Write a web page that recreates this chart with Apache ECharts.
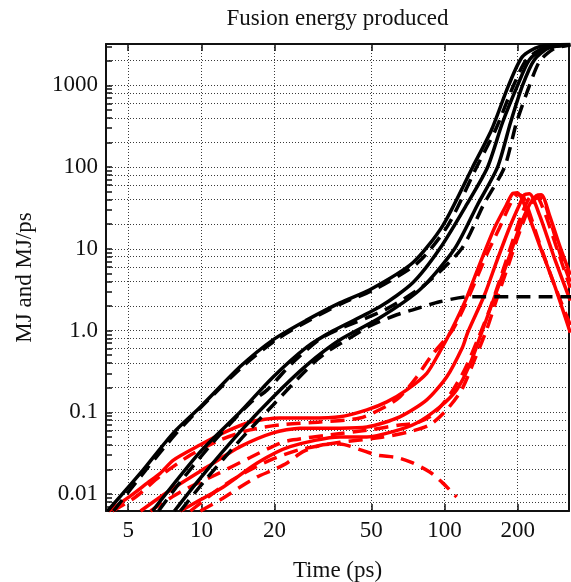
<!DOCTYPE html>
<html>
<head>
<meta charset="utf-8">
<title>Fusion energy produced</title>
<script src="https://cdn.jsdelivr.net/npm/echarts@6/dist/echarts.min.js"></script>
<style>
  html, body { margin: 0; padding: 0; background: #fff; }
  #chart { width: 571px; height: 582px; }
</style>
</head>
<body>
<div id="chart"></div>
<script>
// axis labels
const xTickVals = [5, 10, 20, 50, 100, 200];
const yLabelVals = [0.01, 0.1, 1, 10, 100, 1000];

// energy produced (MJ), black curves
const tA = [4.11, 5.62, 7.67, 9.9, 14.4, 19.7, 27.2, 37.1, 49.3, 74, 98.2, 130.4, 156.1, 183.2, 209.1, 245.5, 329];
const eA = [0.0062, 0.0181, 0.056, 0.116, 0.36, 0.77, 1.35, 2.18, 3.15, 6.74, 19.1, 99.5, 286, 989, 2240, 2969, 3150];
const tAd = [4.35, 5.89, 7.82, 10.09, 14.72, 20.29, 27.98, 38.2, 51.19, 77.6, 103, 135.4, 162.1, 192, 217.2, 257.4, 329];
const eAd = [0.0062, 0.0195, 0.054, 0.12, 0.36, 0.77, 1.35, 2.18, 3.15, 6.74, 19.1, 99.5, 286, 989, 2058, 2886, 3140];
const tB = [6.29, 9.9, 14.44, 19.72, 27.19, 34.76, 54.18, 74, 95.5, 123.2, 150.3, 173.1, 199.5, 223.4, 257.4, 329];
const eB = [0.0062, 0.033, 0.101, 0.27, 0.63, 0.99, 1.95, 3.84, 10, 34.6, 99.5, 348, 989, 2058, 2805, 3140];
const tC = [7.74, 9.9, 14.44, 19.72, 27.19, 37.14, 54.18, 79.1, 110, 136.7, 165.2, 186.7, 209.1, 234.2, 269.8, 329];
const eC = [0.0062, 0.0157, 0.058, 0.154, 0.38, 0.77, 1.43, 3.15, 10, 34.6, 99.5, 348, 989, 2058, 2886, 3140];
const tBd = [6.66, 8.19, 11.09, 15.87, 18.64, 23.82, 32.2, 56.8, 82.9, 117.5, 144.7, 176.4, 197.6, 223.4, 245.5, 277.5, 329];
const eBd = [0.0062, 0.0141, 0.042, 0.13, 0.188, 0.41, 0.86, 1.79, 3.63, 10, 34.6, 99.5, 348, 989, 1945, 2727, 3140];
const tCd = [8.19, 10.38, 14.44, 19.72, 26.18, 29.89, 33.79, 39.67, 49.29, 63.62, 74, 95.5, 126.8, 340];
const eCd = [0.0062, 0.0149, 0.046, 0.123, 0.3, 0.44, 0.58, 0.77, 1.14, 1.56, 1.79, 2.25, 2.59, 2.59];

// fusion power (MJ/ps), red curves
const tR1 = [4.15, 5.11, 6.0, 6.79, 7.67, 9.9, 12.3, 15.87, 21.07, 27.98, 37.14, 47.92, 57.88, 69.9, 84.5, 95.5, 106.9, 123.2, 140.7, 160.6, 179.8, 190.2, 199.5, 213.1, 245.5, 282.8, 329];
const pR1 = [0.0062, 0.0095, 0.0137, 0.0181, 0.026, 0.04, 0.056, 0.076, 0.085, 0.085, 0.088, 0.107, 0.134, 0.188, 0.3, 0.548, 1.02, 2.51, 6.93, 18.1, 34.6, 47.1, 48.4, 34.6, 11.2, 3.63, 0.94];
const tR2 = [5.62, 7.46, 10.58, 14.44, 19.72, 25.45, 37.14, 47.92, 65.45, 84.5, 102, 118.7, 124.4, 146.1, 163.6, 184.9, 203.3, 213.1, 223.4, 245.5, 282.8, 329];
const pR2 = [0.0062, 0.0112, 0.0215, 0.038, 0.056, 0.064, 0.064, 0.066, 0.088, 0.142, 0.27, 0.63, 0.94, 2.74, 6.93, 18.1, 34.6, 45.8, 47.1, 26.1, 7.76, 2.32];
const tR3 = [8.19, 9.9, 12.3, 16.96, 23.16, 37.14, 47.92, 61.26, 76.8, 95.5, 112.1, 126.8, 142, 160.6, 181.5, 203.3, 223.4, 238.7, 250.2, 269.8, 296.6, 329];
const pR3 = [0.0062, 0.0085, 0.0122, 0.024, 0.038, 0.05, 0.05, 0.058, 0.074, 0.116, 0.188, 0.38, 0.94, 2.59, 6.93, 18.1, 34.6, 44.6, 45.8, 26.1, 11.2, 4.81];
const tRd1 = [4.31, 5.36, 6.79, 9.01, 11.96, 15.87, 21.07, 30.75, 44.86, 56.8, 65.45, 76.8, 88.6, 108, 126.8, 148.9, 168.3, 188.4, 199.5, 211.1, 245.5, 282.8, 329];
const pRd1 = [0.0062, 0.0092, 0.0167, 0.03, 0.046, 0.061, 0.07, 0.076, 0.085, 0.116, 0.154, 0.27, 0.5, 1.02, 2.74, 8.45, 18.1, 37.6, 45.8, 43.3, 11.8, 3.63, 1.17];
const tRd2 = [6.17, 8.19, 11.4, 15.87, 21.07, 23.82, 33.79, 49.29, 65.45, 76.8, 89.4, 105, 120.9, 136.7, 153.1, 171.5, 188.4, 207.2, 223.4, 236.4, 257.4, 291.1, 329];
const pRd2 = [0.0062, 0.0106, 0.0171, 0.028, 0.042, 0.046, 0.053, 0.061, 0.07, 0.074, 0.093, 0.163, 0.33, 0.77, 1.79, 4.81, 11.2, 26.1, 42.1, 45.8, 28.4, 9.72, 3.33];
const tRd3 = [9.01, 11.62, 14.04, 19.17, 25.45, 37.14, 54.18, 71.9, 86.9, 102, 117.5, 132.9, 148.9, 163.6, 181.5, 199.5, 219.2, 236.4, 250.2, 269.8, 302.3, 329];
const pRd3 = [0.0062, 0.0112, 0.0162, 0.026, 0.035, 0.043, 0.049, 0.058, 0.07, 0.107, 0.188, 0.44, 1.02, 2.38, 5.85, 13.6, 28.4, 40.9, 42.1, 24, 7.76, 3.95];
const tRd4 = [9.9, 11.96, 14.44, 16.96, 19.72, 22.51, 26.18, 31.6, 37.14, 44.86, 52.7, 63.62, 74, 86.9, 98.2, 112.1];
const pRd4 = [0.0062, 0.0085, 0.0122, 0.0162, 0.0197, 0.024, 0.033, 0.04, 0.041, 0.035, 0.03, 0.028, 0.024, 0.0186, 0.0137, 0.0092];

const serif = '"Liberation Serif", "DejaVu Serif", serif';
const ink = '#111';
const dotted = { color: '#3a3a3a', width: 1, type: [1, 2] };
const dash = [14, 8];

// minor ticks on every integer multiple, grid lines on 2,4,6,8,10
const yTickVals = [];
const yGridVals = [];
for (let k = -3; k <= 3; k++) {
    for (let m = 1; m <= 9; m++) {
        const v = +(m * Math.pow(10, k)).toPrecision(3);
        if (v < 0.0062 || v > 3200) continue;
        yTickVals.push(v);
        if (m === 1 || m % 2 === 0) yGridVals.push(v);
    }
}

function zip(t, v) {
    return t.map((x, i) => [x, v[i]]);
}

function curve(t, v, color, dashed) {
    return {
        type: 'line',
        data: zip(t, v),
        showSymbol: false,
        symbol: 'none',
        smooth: 0.25,
        silent: true,
        lineStyle: { color: color, width: 3.5, type: dashed ? dash : 'solid' }
    };
}

const chart = echarts.init(document.getElementById('chart'));
chart.setOption({
    animation: false,
    backgroundColor: '#fff',
    grid: { left: 106, right: 2, top: 44, bottom: 71, containLabel: false, outerBoundsMode: 'none' },
    xAxis: [
        {
            type: 'log', min: 4.05, max: 325, position: 'bottom',
            name: 'Time (ps)', nameLocation: 'middle', nameGap: 48,
            nameTextStyle: { fontFamily: serif, fontSize: 23, color: ink },
            axisLine: { show: true, onZero: false, lineStyle: { color: ink, width: 2 } },
            axisTick: { show: true, inside: true, length: 7, customValues: xTickVals, lineStyle: { color: ink, width: 1.5 } },
            axisLabel: { customValues: xTickVals, fontFamily: serif, fontSize: 23, color: ink, margin: 8 },
            splitLine: { show: true, lineStyle: dotted }
        },
        {
            type: 'log', min: 4.05, max: 325, position: 'top',
            name: 'Fusion energy produced', nameLocation: 'middle', nameGap: 14,
            nameTextStyle: { fontFamily: serif, fontSize: 23, color: ink },
            axisLine: { show: true, onZero: false, lineStyle: { color: ink, width: 2 } },
            axisTick: { show: true, inside: true, length: 7, customValues: xTickVals, lineStyle: { color: ink, width: 1.5 } },
            axisLabel: { show: false },
            splitLine: { show: false }
        }
    ],
    yAxis: [
        {
            type: 'log', min: 0.0062, max: 3200, position: 'left',
            name: 'MJ and MJ/ps', nameLocation: 'middle', nameGap: 70,
            nameTextStyle: { fontFamily: serif, fontSize: 23, color: ink },
            axisLine: { show: true, onZero: false, lineStyle: { color: ink, width: 2 } },
            axisTick: { show: true, inside: true, length: 6, customValues: yTickVals, lineStyle: { color: ink, width: 1.5 } },
            axisLabel: {
                customValues: yLabelVals, fontFamily: serif, fontSize: 23, color: ink, margin: 8,
                formatter: v => (v === 1 ? '1.0' : String(v))
            },
            splitLine: { show: false }
        },
        {
            type: 'log', min: 0.0062, max: 3200, position: 'right',
            axisLine: { show: true, onZero: false, lineStyle: { color: ink, width: 2 } },
            axisTick: { show: false, customValues: yGridVals },
            axisLabel: { show: false },
            splitLine: { show: true, lineStyle: dotted }
        }
    ],
    series: [
        curve(tR1, pR1, '#ff0000', false),
        curve(tRd1, pRd1, '#ff0000', true),
        curve(tR2, pR2, '#ff0000', false),
        curve(tRd2, pRd2, '#ff0000', true),
        curve(tR3, pR3, '#ff0000', false),
        curve(tRd3, pRd3, '#ff0000', true),
        curve(tRd4, pRd4, '#ff0000', true),
        curve(tA, eA, '#000', false),
        curve(tAd, eAd, '#000', true),
        curve(tB, eB, '#000', false),
        curve(tBd, eBd, '#000', true),
        curve(tC, eC, '#000', false),
        curve(tCd, eCd, '#000', true)
    ]
});
</script>
</body>
</html>
